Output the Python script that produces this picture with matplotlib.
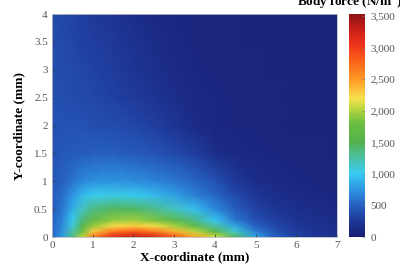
import numpy as np
import matplotlib
matplotlib.use("Agg")
import matplotlib.pyplot as plt
from matplotlib.colors import LinearSegmentedColormap
from matplotlib.ticker import FuncFormatter

plt.rcParams['font.family'] = ['Liberation Serif', 'DejaVu Serif']

# grid coordinates (mm)
x_mm = [0, 0.25, 0.5, 0.75, 1, 1.5, 2, 2.5, 3, 3.5, 4, 4.5, 5, 5.5, 6, 6.5, 7]
y_mm = [0, 0.1, 0.2, 0.3, 0.5, 0.75, 1, 1.5, 2, 2.5, 3, 3.5, 4]

# body force (N/m^3), rows = y_mm, columns = x_mm
row_y0_00 = [530, 780, 1350, 2050, 2650, 3150, 3300, 3200, 2850, 2450, 2100, 1450, 850, 480, 310, 225, 178]
row_y0_10 = [520, 750, 1230, 1800, 2280, 2680, 2820, 2700, 2400, 2050, 1620, 1120, 640, 400, 285, 208, 166]
row_y0_20 = [510, 715, 1100, 1560, 1930, 2220, 2300, 2220, 1980, 1660, 1260, 830, 500, 345, 252, 192, 156]
row_y0_30 = [500, 680, 1010, 1380, 1680, 1920, 1960, 1850, 1630, 1330, 990, 610, 400, 300, 220, 170, 145]
row_y0_50 = [490, 620, 880, 1160, 1340, 1460, 1440, 1330, 1160, 950, 710, 480, 320, 230, 170, 140, 125]
row_y0_75 = [470, 560, 750, 920, 1010, 1050, 1010, 930, 810, 660, 525, 365, 235, 165, 128, 105, 92]
row_y1_00 = [450, 500, 600, 690, 740, 760, 730, 680, 610, 535, 425, 255, 165, 120, 100, 88, 80]
row_y1_50 = [430, 445, 460, 475, 485, 485, 465, 425, 365, 290, 150, 112, 100, 88, 78, 70, 64]
row_y2_00 = [410, 410, 410, 405, 395, 375, 345, 300, 225, 135, 105, 95, 85, 75, 68, 62, 58]
row_y2_50 = [400, 395, 385, 370, 350, 315, 275, 220, 160, 120, 100, 85, 76, 69, 63, 58, 55]
row_y3_00 = [390, 380, 365, 340, 320, 280, 230, 170, 125, 105, 88, 78, 70, 65, 60, 56, 53]
row_y3_50 = [385, 370, 340, 310, 290, 250, 195, 140, 112, 95, 80, 72, 66, 62, 57, 54, 52]
row_y4_00 = [380, 355, 325, 290, 265, 220, 165, 120, 100, 85, 75, 70, 65, 60, 55, 52, 50]

force = np.array([row_y0_00, row_y0_10, row_y0_20, row_y0_30, row_y0_50, row_y0_75,
                  row_y1_00, row_y1_50, row_y2_00, row_y2_50, row_y3_00, row_y3_50,
                  row_y4_00], dtype=float)

x_ticks = [0, 1, 2, 3, 4, 5, 6, 7]
y_ticks = [0, 0.5, 1, 1.5, 2, 2.5, 3, 3.5, 4]
y_ticklabels = ['0', '0.5', '1', '1.5', '2', '2.5', '3', '3.5', '4']
cb_ticks = [0, 500, 1000, 1500, 2000, 2500, 3000, 3500]
vmax = 3530

anchor_vals = [0, 250, 500, 750, 1000, 1250, 1500, 1800, 2050, 2200, 2500, 2800, 3050, 3300, 3530]
anchor_cols = [(0.10, 0.12, 0.45), (0.12, 0.22, 0.60), (0.15, 0.38, 0.76), (0.18, 0.58, 0.88),
               (0.22, 0.80, 0.95), (0.30, 0.75, 0.65), (0.33, 0.70, 0.30), (0.42, 0.74, 0.25),
               (0.75, 0.85, 0.25), (0.97, 0.88, 0.30), (1.00, 0.60, 0.15), (0.98, 0.38, 0.10),
               (0.93, 0.20, 0.10), (0.78, 0.12, 0.10), (0.55, 0.08, 0.08)]
cmap = LinearSegmentedColormap.from_list(
    'bf', [(v / vmax, c) for v, c in zip(anchor_vals, anchor_cols)], N=256)

fig = plt.figure(figsize=(4.0, 2.66), dpi=100)
ax = fig.add_axes([0.13, 0.109, 0.7125, 0.838])
cax = fig.add_axes([0.8725, 0.109, 0.04, 0.838])

X, Y = np.meshgrid(x_mm, y_mm)
pc = ax.pcolormesh(X, Y, force, shading='gouraud', cmap=cmap, vmin=0, vmax=vmax,
                   rasterized=True)
ax.set_xlim(0, 7)
ax.set_ylim(0, 4)
ax.set_xticks(x_ticks)
ax.set_yticks(y_ticks)
ax.set_yticklabels(y_ticklabels)
ax.tick_params(direction='in', length=2.5, width=0.5, labelsize=8,
               labelcolor='#555555', color='#333333', pad=3)
for s in ax.spines.values():
    s.set_color('#bbbbbb')
    s.set_linewidth(0.6)
ax.set_xlabel('X-coordinate (mm)', fontsize=9.5, fontweight='bold', labelpad=1)
ax.set_ylabel('Y-coordinate (mm)', fontsize=9.5, fontweight='bold', labelpad=6)

cb = fig.colorbar(pc, cax=cax, ticks=cb_ticks)
cb.ax.yaxis.set_major_formatter(FuncFormatter(lambda v, p: f'{int(v):,}'))
cb.ax.tick_params(direction='in', length=2, width=0.4, labelsize=8,
                  labelcolor='#555555', color='#888888', pad=4)
cb.outline.set_visible(False)
fig.text(0.875, 0.99, 'Body force (N/m$^3$)', fontsize=9.5, fontweight='bold',
         ha='center', va='center')

fig.savefig('out.png', dpi=100)
